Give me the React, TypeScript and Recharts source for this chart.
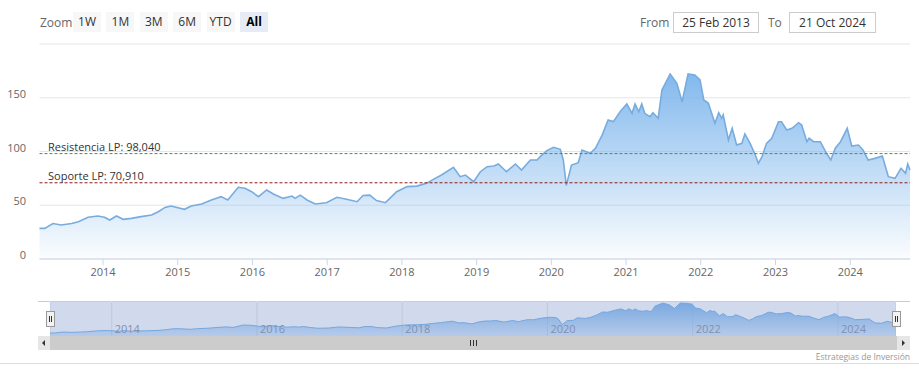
import React from "react";
import {
  AreaChart,
  Area,
  XAxis,
  YAxis,
  CartesianGrid,
  ReferenceLine,
} from "recharts";

// fechas en años decimales y cotización
const dates = [
  2013.15, 2013.22, 2013.33, 2013.44, 2013.58, 2013.67, 2013.8, 2013.93, 2014.02, 2014.09,
  2014.18, 2014.27, 2014.38, 2014.51, 2014.65, 2014.74, 2014.83, 2014.91, 2015.09, 2015.18,
  2015.32, 2015.45, 2015.58, 2015.67, 2015.81, 2015.9, 2015.99, 2016.08, 2016.19, 2016.28,
  2016.41, 2016.53, 2016.57, 2016.64, 2016.73, 2016.84, 2016.99, 2017.13, 2017.26, 2017.4,
  2017.48, 2017.57, 2017.66, 2017.78, 2017.93, 2018.07, 2018.2, 2018.33, 2018.42, 2018.53,
  2018.69, 2018.78, 2018.85, 2018.96, 2019.05, 2019.14, 2019.23, 2019.29, 2019.4, 2019.52,
  2019.6, 2019.72, 2019.81, 2019.85, 2019.94, 2020.03, 2020.12, 2020.16, 2020.2, 2020.27,
  2020.36, 2020.41, 2020.52, 2020.59, 2020.68, 2020.76, 2020.83, 2020.92, 2021.01, 2021.08,
  2021.12, 2021.17, 2021.21, 2021.25, 2021.32, 2021.36, 2021.43, 2021.48, 2021.59, 2021.68,
  2021.75, 2021.83, 2021.92, 2021.99, 2022.04, 2022.1, 2022.19, 2022.24, 2022.28, 2022.3,
  2022.37, 2022.42, 2022.48, 2022.55, 2022.59, 2022.66, 2022.73, 2022.77, 2022.82, 2022.88,
  2022.95, 2023.04, 2023.08, 2023.15, 2023.22, 2023.31, 2023.35, 2023.42, 2023.45, 2023.51,
  2023.6, 2023.67, 2023.74, 2023.8, 2023.87, 2023.96, 2024.02, 2024.11, 2024.17, 2024.24,
  2024.33, 2024.43, 2024.51, 2024.6, 2024.68, 2024.74, 2024.77, 2024.8,
];

const prices = [
  28.5, 28.5, 33, 31.6, 33, 34.7, 38.8, 40, 38.8, 36.3,
  40, 36.9, 37.8, 39.4, 41, 44, 48, 49.3, 46.2, 49.3,
  51.2, 54.9, 58, 54.9, 66.7, 65.8, 62.6, 58, 64.2, 60.5,
  56.4, 58.6, 56.4, 59.4, 54.9, 51.2, 52.4, 57.4, 55.5, 53.3,
  59.1, 59.4, 54.3, 52.4, 62.6, 67.3, 67.8, 70.4, 74.1, 78.1,
  85.3, 76.6, 78.1, 71.9, 81.2, 85.9, 86.5, 88.4, 81.2, 88.4,
  82.8, 92.1, 92.1, 95.2, 100.8, 103.9, 102, 92.1, 68.5, 87.4,
  89.6, 101.4, 98.3, 103, 115.3, 129.3, 127.8, 137, 144.2, 135.5,
  144.2, 137, 144.2, 135.5, 132.4, 136.1, 130.9, 157.2, 172.1, 163.4,
  146.3, 172.1, 171.2, 166.5, 147.9, 145, 126.2, 136.1, 130.9, 134,
  110.7, 121.6, 106, 107.6, 116.3, 107.6, 96.7, 89, 95.2, 107.6,
  112.3, 127.7, 127.7, 120, 121.6, 126.8, 124.6, 109.1, 112.3, 109.1,
  109.1, 99.8, 92.1, 103, 109.1, 121.6, 105.1, 106, 101.4, 92.1,
  93.6, 95.8, 76.6, 75, 84.4, 79.7, 88.4, 82.8,
];

const yearTicks = [2014, 2015, 2016, 2017, 2018, 2019, 2020, 2021, 2022, 2023, 2024];
const navTicks = [2014, 2016, 2018, 2020, 2022, 2024];
const priceTicks = [0, 50, 100, 150, 200];
const zoomButtons = ["1W", "1M", "3M", "6M", "YTD", "All"];

const resistencia = 98.04;
const soporte = 70.91;

const data = dates.map((t, i) => ({ t, price: prices[i] }));
const domainX: [number, number] = [dates[0], dates[dates.length - 1]];

const FONT = "'Open Sans', 'DejaVu Sans', sans-serif";

function YTick({ y, payload }: any) {
  if (payload.value === 200) return <g />;
  return (
    <text x={26} y={y} textAnchor="end" fill="#666" fontSize={11} fontFamily={FONT}>
      {payload.value}
    </text>
  );
}

function NavTick({ x, payload }: any) {
  return (
    <text x={x + 3} y={32} fill="#8c95a8" fontSize={11} fontFamily={FONT}>
      {payload.value}
    </text>
  );
}

function lineLabel(text: string) {
  return ({ viewBox }: any) => (
    <text x={viewBox.x + 8.5} y={viewBox.y - 3} fill="#333" fontSize={11} fontFamily={FONT}>
      {text}
    </text>
  );
}

const fmt = (v: number) => v.toFixed(3).replace(".", ",");

function Handle({ left }: { left: number }) {
  return (
    <div
      style={{
        position: "absolute",
        left: left - 4,
        top: 311,
        width: 7,
        height: 14,
        background: "#f2f2f2",
        border: "1px solid #999",
        boxSizing: "content-box",
      }}
    >
      <div style={{ position: "absolute", left: 2, top: 4, width: 1, height: 6, background: "#333" }} />
      <div style={{ position: "absolute", left: 4, top: 4, width: 1, height: 6, background: "#333" }} />
    </div>
  );
}

export default function App() {
  return (
    <div
      style={{
        position: "absolute",
        left: 0,
        top: 0,
        width: 919,
        height: 373,
        background: "#fff",
        fontFamily: FONT,
        overflow: "hidden",
      }}
    >
      {/* selector de rango */}
      <div style={{ position: "absolute", left: 40, top: 14, fontSize: 12, color: "#666" }}>Zoom</div>
      {zoomButtons.map((b, i) => (
        <div
          key={b}
          style={{
            position: "absolute",
            left: 73 + i * 33.4,
            top: 12,
            width: 28,
            height: 20,
            lineHeight: "20px",
            textAlign: "center",
            fontSize: 12,
            background: b === "All" ? "#e6ebf5" : "#f7f7f7",
            color: b === "All" ? "#000" : "#333",
            fontWeight: b === "All" ? 700 : 400,
          }}
        >
          {b}
        </div>
      ))}
      <div style={{ position: "absolute", left: 640, top: 14, fontSize: 12, color: "#666" }}>From</div>
      <div
        style={{
          position: "absolute",
          left: 673,
          top: 12,
          width: 84,
          height: 19,
          lineHeight: "19px",
          textAlign: "center",
          fontSize: 12,
          color: "#333",
          border: "1px solid #ccc",
        }}
      >
        25 Feb 2013
      </div>
      <div style={{ position: "absolute", left: 768, top: 14, fontSize: 12, color: "#666" }}>To</div>
      <div
        style={{
          position: "absolute",
          left: 789,
          top: 12,
          width: 85,
          height: 19,
          lineHeight: "19px",
          textAlign: "center",
          fontSize: 12,
          color: "#333",
          border: "1px solid #ccc",
        }}
      >
        21 Oct 2024
      </div>

      {/* gráfico principal */}
      <div style={{ position: "absolute", left: 0, top: 0 }}>
        <AreaChart width={919} height={300} data={data} margin={{ top: 44, right: 9, bottom: 11, left: 0 }}>
          <defs>
            <linearGradient id="priceFill" x1="0" y1="0" x2="0" y2="1">
              <stop offset="0%" stopColor="#7cb5ec" stopOpacity={0.95} />
              <stop offset="100%" stopColor="#7cb5ec" stopOpacity={0.03} />
            </linearGradient>
          </defs>
          <CartesianGrid vertical={false} stroke="#e6e6e6" />
          <XAxis
            dataKey="t"
            type="number"
            domain={domainX}
            ticks={yearTicks}
            height={30}
            axisLine={{ stroke: "#ccd6eb" }}
            tickLine={{ stroke: "#ccd6eb" }}
            tickSize={6}
            tickMargin={3}
            tick={{ fill: "#666", fontSize: 11, fontFamily: FONT }}
          />
          <YAxis
            type="number"
            domain={[0, 200]}
            ticks={priceTicks}
            width={39.5}
            axisLine={false}
            tickLine={false}
            tick={<YTick />}
          />
          <Area
            type="linear"
            dataKey="price"
            stroke="#78acdf"
            strokeWidth={1.6}
            fill="url(#priceFill)"
            fillOpacity={1}
            isAnimationActive={false}
            dot={false}
            activeDot={false}
          />
          <ReferenceLine
            y={resistencia}
            stroke="#2ea52e"
            strokeDasharray="3 2"
            label={{ content: lineLabel(`Resistencia LP: ${fmt(resistencia)}`) }}
          />
          <ReferenceLine
            y={soporte}
            stroke="#8b1c1c"
            strokeDasharray="3 2"
            label={{ content: lineLabel(`Soporte LP: ${fmt(soporte)}`) }}
          />
        </AreaChart>
      </div>

      {/* navegador */}
      <div style={{ position: "absolute", left: 38, top: 301, width: 872, height: 1, background: "#cccccc" }} />
      <div style={{ position: "absolute", left: 50, top: 301 }}>
        <AreaChart width={846} height={36} data={data} margin={{ top: 0, right: 0, bottom: 0, left: 0 }}>
          <defs>
            <linearGradient id="navFill" x1="0" y1="0" x2="0" y2="1">
              <stop offset="0%" stopColor="#7cb5ec" stopOpacity={0.95} />
              <stop offset="100%" stopColor="#7cb5ec" stopOpacity={0.3} />
            </linearGradient>
          </defs>
          <CartesianGrid horizontal={false} stroke="#e6e6e6" />
          <XAxis
            dataKey="t"
            type="number"
            domain={domainX}
            ticks={navTicks}
            height={1}
            axisLine={false}
            tickLine={false}
            tick={<NavTick />}
            interval={0}
          />
          <YAxis type="number" domain={[14, 182]} hide width={0} />
          <Area
            type="linear"
            dataKey="price"
            stroke="#7cb5ec"
            strokeWidth={1}
            fill="url(#navFill)"
            fillOpacity={1}
            isAnimationActive={false}
            dot={false}
            activeDot={false}
          />
        </AreaChart>
      </div>
      <div
        style={{
          position: "absolute",
          left: 50,
          top: 302,
          width: 846,
          height: 34,
          background: "rgba(102,133,194,0.3)",
        }}
      />
      <Handle left={50} />
      <Handle left={896} />

      {/* barra de desplazamiento */}
      <div style={{ position: "absolute", left: 38, top: 336, width: 872, height: 14, background: "#f2f2f2" }} />
      <div style={{ position: "absolute", left: 50, top: 336, width: 847, height: 14, background: "#cccccc" }} />
      {[0, 3, 6].map((d) => (
        <div key={d} style={{ position: "absolute", left: 470 + d, top: 340, width: 1, height: 6, background: "#333" }} />
      ))}
      <div style={{ position: "absolute", left: 38, top: 336, width: 12, height: 14, background: "#e6e6e6" }}>
        <div
          style={{
            position: "absolute",
            left: 4,
            top: 4,
            width: 0,
            height: 0,
            borderTop: "3px solid transparent",
            borderBottom: "3px solid transparent",
            borderRight: "3px solid #333",
          }}
        />
      </div>
      <div style={{ position: "absolute", left: 897, top: 336, width: 13, height: 14, background: "#e6e6e6" }}>
        <div
          style={{
            position: "absolute",
            left: 5,
            top: 4,
            width: 0,
            height: 0,
            borderTop: "3px solid transparent",
            borderBottom: "3px solid transparent",
            borderLeft: "3px solid #333",
          }}
        />
      </div>

      {/* créditos */}
      <div
        style={{
          position: "absolute",
          right: 9,
          top: 351,
          fontSize: 8.5,
          color: "#999",
          whiteSpace: "nowrap",
        }}
      >
        Estrategias de Inversión
      </div>
      <div style={{ position: "absolute", left: 0, top: 363, width: 919, height: 1, background: "#dddddd" }} />
    </div>
  );
}
